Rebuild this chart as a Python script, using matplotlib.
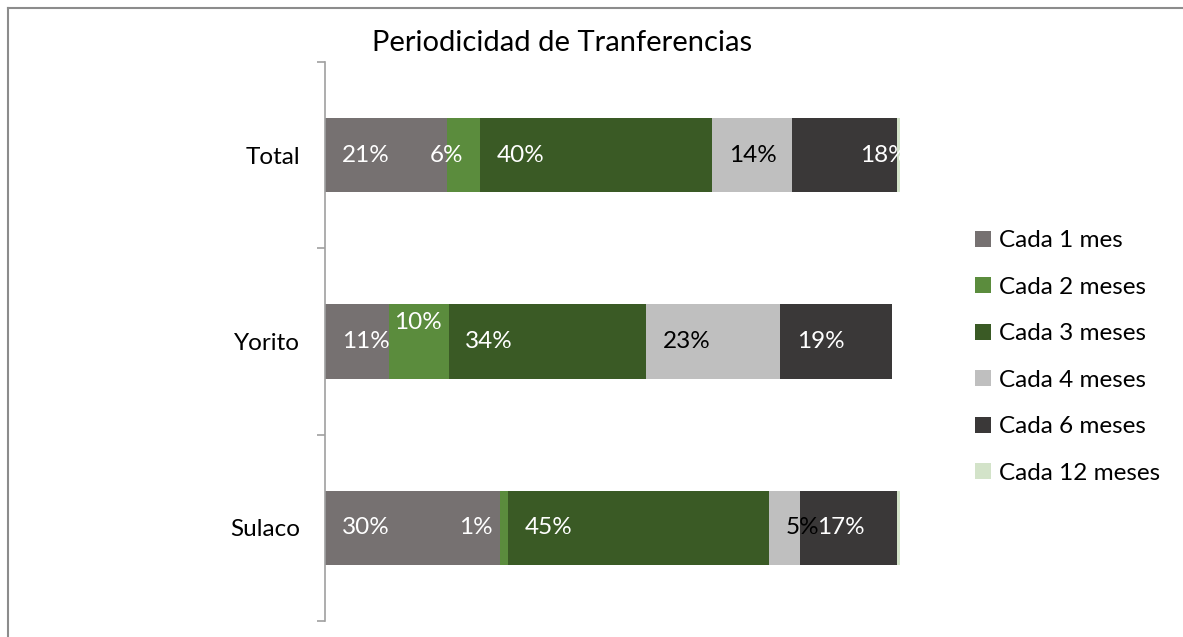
import numpy as np
import matplotlib.pyplot as plt
from matplotlib.lines import Line2D

plt.rcParams["font.family"] = ["Lato", "DejaVu Sans"]

categorias = ["Sulaco", "Yorito", "Total"]
series = ["Cada 1 mes", "Cada 2 meses", "Cada 3 meses", "Cada 4 meses", "Cada 6 meses", "Cada 12 meses"]
# porcentajes por serie, en el orden de categorias
cada_1 = [30.4, 11.1, 21.3]
cada_2 = [1.4, 10.4, 5.7]
cada_3 = [45.4, 34.4, 40.3]
cada_4 = [5.4, 23.3, 13.9]
cada_6 = [16.9, 19.4, 18.3]
cada_12 = [0.6, 0.0, 0.5]
valores = [cada_1, cada_2, cada_3, cada_4, cada_6, cada_12]

colores = ["#767171", "#5B8C3D", "#3A5A25", "#BFBFBF", "#3A3838", "#D3E3C9"]
color_texto = ["white", "white", "white", "black", "white", None]
# ajuste de la etiqueta (desplazamiento desde el inicio del segmento, en %, y desplazamiento vertical)
ajuste = {(2, 1): (-3.0, 0), (0, 1): (-7.1, 0), (2, 4): (11.8, 0), (1, 1): (0.9, 0.1)}

fig = plt.figure(figsize=(11.83, 6.37), dpi=100)
ax = fig.add_axes([325 / 1183, 16 / 637, 575 / 1183, 559 / 637])

y = np.arange(len(categorias))
izq = np.zeros(len(categorias))
for s, (nombre, vals) in enumerate(zip(series, valores)):
    ax.barh(y, vals, left=izq, height=0.4, color=colores[s], label=nombre)
    if color_texto[s] is not None:
        for i, v in enumerate(vals):
            dx, dy = ajuste.get((i, s), (2.9, 0))
            ax.text(izq[i] + dx, y[i] + dy, f"{v:.0f}%", ha="left", va="center",
                    color=color_texto[s], fontsize=17.5)
    izq += np.array(vals)

ax.set_xlim(0, 100)
ax.set_ylim(-0.5, 2.5)
ax.set_yticks([-0.5, 0.5, 1.5, 2.5])
ax.set_yticklabels([])
ax.set_yticks(y, minor=True)
ax.set_yticklabels(categorias, minor=True, fontsize=17.5)
ax.tick_params(axis="y", which="major", length=6, color="#A0A0A0", width=1.2)
ax.tick_params(axis="y", which="minor", length=0, pad=18)
ax.set_xticks([])
for lado in ["top", "right", "bottom"]:
    ax.spines[lado].set_visible(False)
ax.spines["left"].set_color("#A0A0A0")
ax.spines["left"].set_linewidth(1.2)

fig.text(562 / 1183, 1 - 43 / 637, "Periodicidad de Tranferencias", ha="center", va="center", fontsize=21)

fig.legend(loc="center left", bbox_to_anchor=(975 / 1183, 1 - 357 / 637), frameon=False,
           fontsize=17.5, handlelength=0.65, handleheight=0.65, handletextpad=0.35,
           labelspacing=1.05, borderpad=0, borderaxespad=0)

fig.add_artist(Line2D([8 / 1183, 1], [1 - 8 / 637, 1 - 8 / 637], color="#8C8C8C", lw=1.5))
fig.add_artist(Line2D([8 / 1183, 8 / 1183], [0, 1 - 8 / 637], color="#8C8C8C", lw=1.5))

fig.savefig("out.png", dpi=100)
